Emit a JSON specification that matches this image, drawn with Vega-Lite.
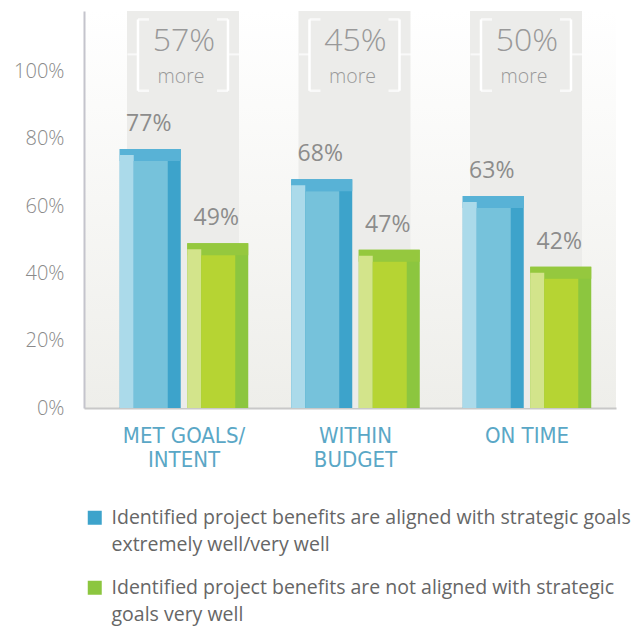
{
  "$schema": "https://vega.github.io/schema/vega-lite/v6.json",
  "width": 532,
  "height": 397,
  "autosize": {"type": "none"},
  "padding": {"left": 84, "top": 11, "right": 28, "bottom": 220},
  "background": "#ffffff",
  "config": {
    "view": {"stroke": null, "fill": {"gradient": "linear", "x1": 0, "y1": 0, "x2": 0, "y2": 1, "stops": [{"offset": 0, "color": "#ffffff"}, {"offset": 1, "color": "#eeeeea"}]}},
    "font": "Open Sans"
  },
  "data": {
    "values": [
      {"category": "MET GOALS/ INTENT", "series": "Identified project benefits are aligned with strategic goals extremely well/very well", "value": 0.77, "more": 0.57},
      {"category": "MET GOALS/ INTENT", "series": "Identified project benefits are not aligned with strategic goals very well", "value": 0.49, "more": 0.57},
      {"category": "WITHIN BUDGET", "series": "Identified project benefits are aligned with strategic goals extremely well/very well", "value": 0.68, "more": 0.45},
      {"category": "WITHIN BUDGET", "series": "Identified project benefits are not aligned with strategic goals very well", "value": 0.47, "more": 0.45},
      {"category": "ON TIME", "series": "Identified project benefits are aligned with strategic goals extremely well/very well", "value": 0.63, "more": 0.50},
      {"category": "ON TIME", "series": "Identified project benefits are not aligned with strategic goals very well", "value": 0.42, "more": 0.50}
    ]
  },
  "encoding": {
    "x": {
      "field": "category", "type": "nominal", "sort": null,
      "scale": {"paddingInner": 0, "paddingOuter": 0.051, "align": 0.814},
      "axis": {
        "title": null, "ticks": false, "domainColor": "#c8c8c8", "domainWidth": 2,
        "labelFont": "DejaVu Sans Condensed", "labelFontSize": 22, "labelColor": "#5aa7c6",
        "labelPadding": 17, "labelLineHeight": 24, "labelAngle": 0,
        "labelExpr": "datum.value == 'MET GOALS/ INTENT' ? ['MET GOALS/', 'INTENT'] : datum.value == 'WITHIN BUDGET' ? ['WITHIN', 'BUDGET'] : datum.value"
      }
    }
  },
  "layer": [
    {
      "transform": [{"filter": "indexof(datum.series, 'not') < 0"}],
      "mark": {"type": "bar", "width": 112, "xOffset": -1, "color": "#ececea"},
      "encoding": {
        "y": {"datum": 1.18, "type": "quantitative", "scale": {"domain": [0, 1.18], "nice": false}, "axis": {
          "title": null, "values": [0, 0.2, 0.4, 0.6, 0.8, 1], "format": ".0%", "ticks": false, "grid": false,
          "domainColor": "#c4c4cc", "domainWidth": 2, "labelFont": "Open Sans", "labelFontWeight": 300,
          "labelFontSize": 20, "labelColor": "#8a8a8a", "labelPadding": 20
        }}
      }
    },
    {
      "transform": [{"filter": "indexof(datum.series, 'not') < 0"}],
      "mark": {"type": "tick", "orient": "horizontal", "size": 11, "thickness": 2, "xOffset": -51, "color": "#ffffff"},
      "encoding": {"y": {"datum": 1.051, "type": "quantitative"}}
    },
    {
      "transform": [{"filter": "indexof(datum.series, 'not') < 0"}],
      "mark": {"type": "tick", "orient": "horizontal", "size": 11, "thickness": 2, "xOffset": 50, "color": "#ffffff"},
      "encoding": {"y": {"datum": 1.051, "type": "quantitative"}}
    },
    {
      "transform": [{"filter": "indexof(datum.series, 'not') < 0"}],
      "mark": {"type": "rule", "xOffset": -46, "strokeWidth": 2.5, "color": "#ffffff"},
      "encoding": {"y": {"datum": 0.943, "type": "quantitative"}, "y2": {"datum": 1.155}}
    },
    {
      "transform": [{"filter": "indexof(datum.series, 'not') < 0"}],
      "mark": {"type": "rule", "xOffset": 44, "strokeWidth": 2.5, "color": "#ffffff"},
      "encoding": {"y": {"datum": 0.943, "type": "quantitative"}, "y2": {"datum": 1.155}}
    },
    {
      "transform": [{"filter": "indexof(datum.series, 'not') < 0"}],
      "mark": {"type": "tick", "orient": "horizontal", "size": 11, "thickness": 2.5, "xOffset": -40.5, "color": "#ffffff"},
      "encoding": {"y": {"datum": 1.155, "type": "quantitative"}}
    },
    {
      "transform": [{"filter": "indexof(datum.series, 'not') < 0"}],
      "mark": {"type": "tick", "orient": "horizontal", "size": 11, "thickness": 2.5, "xOffset": -40.5, "color": "#ffffff"},
      "encoding": {"y": {"datum": 0.943, "type": "quantitative"}}
    },
    {
      "transform": [{"filter": "indexof(datum.series, 'not') < 0"}],
      "mark": {"type": "tick", "orient": "horizontal", "size": 11, "thickness": 2.5, "xOffset": 38.5, "color": "#ffffff"},
      "encoding": {"y": {"datum": 1.155, "type": "quantitative"}}
    },
    {
      "transform": [{"filter": "indexof(datum.series, 'not') < 0"}],
      "mark": {"type": "tick", "orient": "horizontal", "size": 11, "thickness": 2.5, "xOffset": 38.5, "color": "#ffffff"},
      "encoding": {"y": {"datum": 0.943, "type": "quantitative"}}
    },
    {
      "transform": [{"filter": "indexof(datum.series, 'not') < 0"}],
      "mark": {"type": "text", "fontSize": 32, "fontWeight": 300, "color": "#999999", "baseline": "middle", "align": "center", "xOffset": 0},
      "encoding": {"y": {"datum": 1.09, "type": "quantitative"}, "text": {"field": "more", "type": "quantitative", "format": ".0%"}}
    },
    {
      "transform": [{"filter": "indexof(datum.series, 'not') < 0"}],
      "mark": {"type": "text", "fontSize": 19.5, "fontWeight": 300, "color": "#999999", "baseline": "middle", "align": "center", "xOffset": -3},
      "encoding": {"y": {"datum": 0.983, "type": "quantitative"}, "text": {"value": "more"}}
    },
    {
      "mark": {"type": "bar"},
      "encoding": {
        "xOffset": {"field": "series", "type": "nominal", "sort": null, "scale": {"paddingInner": 0.0963, "paddingOuter": 0.3185}},
        "y": {"field": "value", "type": "quantitative"},
        "color": {
          "field": "series", "type": "nominal", "sort": null,
          "scale": {"range": ["#3da3cb", "#8cc63f"]},
          "legend": {
            "orient": "none", "legendX": 1, "legendY": 497, "direction": "vertical", "title": null,
            "symbolType": "square", "symbolSize": 196, "symbolStrokeWidth": 0, "symbolOpacity": 1,
            "labelFont": "Open Sans", "labelFontSize": 19.5, "labelColor": "#666666", "labelOffset": 7,
            "labelLimit": 0, "rowPadding": 22, "padding": 0, "labelBaseline": "top",
            "labelExpr": "indexof(datum.label, ' not ') < 0 ? ['Identified project benefits are aligned with strategic goals', 'extremely well/very well'] : ['Identified project benefits are not aligned with strategic', 'goals very well']",
            "encode": {"labels": {"update": {"lineHeight": {"value": 27}, "dy": {"value": -9}}}}
          }
        }
      }
    },
    {
      "transform": [{"filter": "indexof(datum.series, 'not') < 0"}],
      "mark": {"type": "bar", "width": 61, "xOffset": -33.75, "color": "#58b2d6", "y2Offset": 12},
      "encoding": {"y": {"field": "value", "type": "quantitative"}, "y2": {"field": "value"}}
    },
    {
      "transform": [{"filter": "indexof(datum.series, 'not') < 0"}],
      "mark": {"type": "bar", "width": 14, "xOffset": -57.25, "color": "#abdaea", "yOffset": 6, "y2Offset": 0},
      "encoding": {"y": {"field": "value", "type": "quantitative"}, "y2": {"datum": 0}}
    },
    {
      "transform": [{"filter": "indexof(datum.series, 'not') < 0"}],
      "mark": {"type": "bar", "width": 34, "xOffset": -33.25, "color": "#76c2db", "yOffset": 12, "y2Offset": 0},
      "encoding": {"y": {"field": "value", "type": "quantitative"}, "y2": {"datum": 0}}
    },
    {
      "transform": [{"filter": "indexof(datum.series, 'not') >= 0"}],
      "mark": {"type": "bar", "width": 61, "xOffset": 33.75, "color": "#95c83e", "y2Offset": 12},
      "encoding": {"y": {"field": "value", "type": "quantitative"}, "y2": {"field": "value"}}
    },
    {
      "transform": [{"filter": "indexof(datum.series, 'not') >= 0"}],
      "mark": {"type": "bar", "width": 14, "xOffset": 10.25, "color": "#d3e48b", "yOffset": 6, "y2Offset": 0},
      "encoding": {"y": {"field": "value", "type": "quantitative"}, "y2": {"datum": 0}}
    },
    {
      "transform": [{"filter": "indexof(datum.series, 'not') >= 0"}],
      "mark": {"type": "bar", "width": 34, "xOffset": 34.25, "color": "#b6d433", "yOffset": 12, "y2Offset": 0},
      "encoding": {"y": {"field": "value", "type": "quantitative"}, "y2": {"datum": 0}}
    },
    {
      "mark": {"type": "text", "fontSize": 23, "color": "#8c8c8c", "baseline": "middle", "align": "center", "dy": -25, "dx": -1.5},
      "encoding": {
        "xOffset": {"field": "series", "type": "nominal", "sort": null},
        "y": {"field": "value", "type": "quantitative"},
        "text": {"field": "value", "type": "quantitative", "format": ".0%"}
      }
    }
  ]
}
